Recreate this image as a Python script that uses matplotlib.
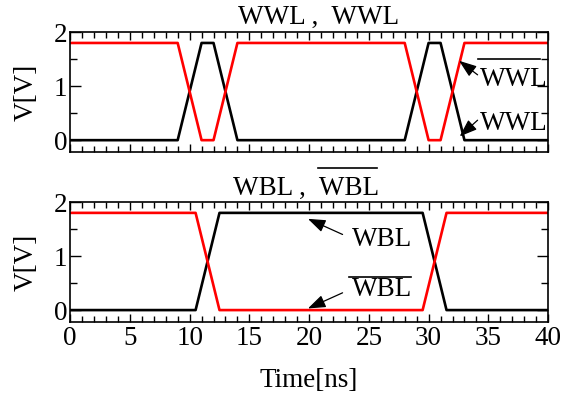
import numpy as np
import matplotlib
matplotlib.use('Agg')
from matplotlib import pyplot as plt
from matplotlib.ticker import MultipleLocator

## waveform data (time in ns, voltage in V)

wwl_t = [0, 9.0, 11.0, 12.0, 14.0, 28.0, 30.0, 31.0, 33.0, 40]
wwl_v = [0, 0, 1.8, 1.8, 0, 0, 1.8, 1.8, 0, 0]
wwlb_t = [0, 9.0, 11.0, 12.0, 14.0, 28.0, 30.0, 31.0, 33.0, 40]
wwlb_v = [1.8, 1.8, 0, 0, 1.8, 1.8, 0, 0, 1.8, 1.8]

wbl_t = [0, 10.5, 12.5, 29.5, 31.5, 40]
wbl_v = [0, 0, 1.8, 1.8, 0, 0]
wblb_t = [0, 10.5, 12.5, 29.5, 31.5, 40]
wblb_v = [1.8, 1.8, 0, 0, 1.8, 1.8]

x_ticks = [0, 5, 10, 15, 20, 25, 30, 35, 40]
y_ticks = [0, 1, 2]

plt.rcParams['font.family'] = ['Liberation Serif', 'DejaVu Serif']
plt.rcParams['font.size'] = 19.5


def style_axes(ax, show_xlabels):
	'''
	box axes with inward ticks on every side, like the original
	'''
	ax.set_xlim(0, 40)
	ax.set_ylim(-0.22, 2.0)
	ax.set_xticks(x_ticks)
	ax.set_yticks(y_ticks)
	ax.xaxis.set_minor_locator(MultipleLocator(1))
	ax.yaxis.set_minor_locator(MultipleLocator(0.5))
	ax.tick_params(which='both', direction='in', top=True, right=True, width=1.0)
	ax.tick_params(axis='x', which='major', length=6, pad=3)
	ax.tick_params(axis='x', which='minor', length=4)
	ax.tick_params(axis='y', which='major', length=8, pad=2)
	ax.tick_params(axis='y', which='minor', length=5)
	if not show_xlabels:
		ax.tick_params(labelbottom=False)
	for sp in ax.spines.values():
		sp.set_linewidth(1.2)
	ax.set_ylabel('V[V]', labelpad=11)


def arrow(ax, tip, tail):
	ax.annotate('', xy=tip, xytext=tail,
			arrowprops=dict(arrowstyle='-|>,head_length=0.55,head_width=0.2',
					color='black', lw=0.9, shrinkA=0, shrinkB=0))


def main():
	fig = plt.figure(figsize=(5.61, 3.97), dpi=100)
	ax1 = fig.add_axes([0.125, 0.617, 0.852, 0.302])
	ax2 = fig.add_axes([0.125, 0.189, 0.852, 0.302])

	# top panel: write word lines
	ax1.plot(wwl_t, wwl_v, color='black', lw=1.9)
	ax1.plot(wwlb_t, wwlb_v, color='red', lw=1.9)
	style_axes(ax1, False)
	arrow(ax1, (32.55, 1.47), (34.1, 1.21))
	arrow(ax1, (32.6, 0.07), (34.1, 0.37))
	ax1.text(34.3, 1.12, 'WWL', va='center', ha='left')
	ax1.plot([34.1, 39.3], [1.50, 1.50], color='black', lw=1.2, clip_on=False)
	ax1.text(34.3, 0.31, 'WWL', va='center', ha='left')
	fig.text(319/561, 1 - 17/397, 'WWL ,  WWL', ha='center', va='center')

	# bottom panel: write bit lines
	ax2.plot(wbl_t, wbl_v, color='black', lw=1.9)
	ax2.plot(wblb_t, wblb_v, color='red', lw=1.9)
	style_axes(ax2, True)
	arrow(ax2, (19.9, 1.69), (22.8, 1.40))
	arrow(ax2, (19.9, 0.03), (22.8, 0.32))
	ax2.text(23.6, 1.30, 'WBL', va='center', ha='left')
	ax2.text(23.6, 0.38, 'WBL', va='center', ha='left')
	ax2.plot([23.3, 28.5], [0.62, 0.62], color='black', lw=1.2)
	ax2.set_xlabel('Time[ns]', labelpad=12)
	fig.text(306/561, 1 - 188/397, 'WBL ,  WBL', ha='center', va='center')
	ax2.plot([0.519, 0.642], [1.283, 1.283], color='black', lw=1.2,
			transform=ax2.transAxes, clip_on=False)

	fig.savefig('out.png', dpi=100)


if __name__ == '__main__':
	main()
